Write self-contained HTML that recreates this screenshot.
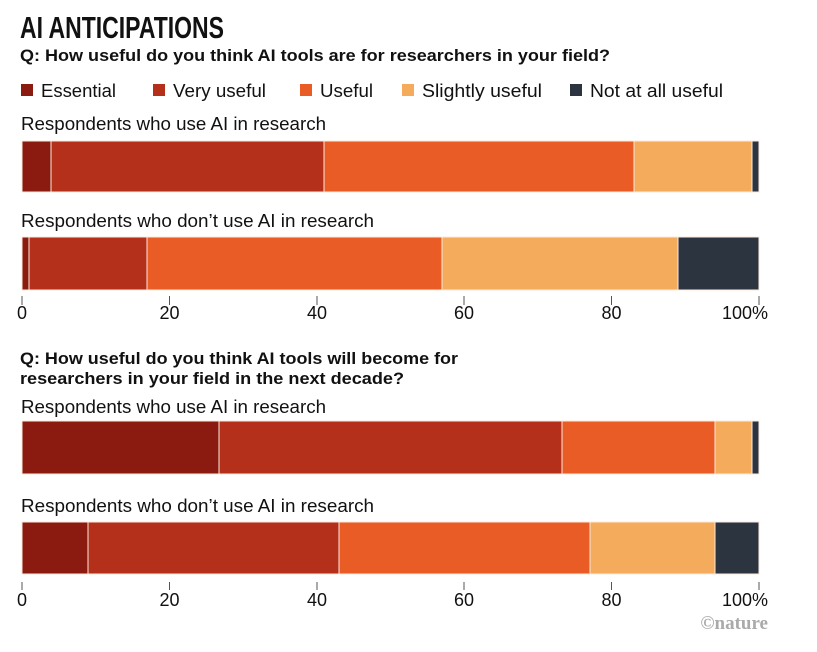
<!DOCTYPE html>
<html><head><meta charset="utf-8"><style>
body{margin:0;background:#fff;width:817px;height:647px;overflow:hidden}
svg text{font-family:"Liberation Sans",sans-serif;fill:#111}
</style></head><body>
<svg width="817" height="647" viewBox="0 0 817 647" xmlns="http://www.w3.org/2000/svg">
<text x="20" y="38" style="font-family:'Liberation Sans Narrow','Liberation Sans',sans-serif;font-weight:bold;font-size:31px" textLength="204" lengthAdjust="spacingAndGlyphs">AI ANTICIPATIONS</text>
<text x="20" y="61" font-size="16.5" font-weight="bold" textLength="590" lengthAdjust="spacingAndGlyphs">Q: How useful do you think AI tools are for researchers in your field?</text>
<g font-size="18">
<rect x="21" y="84" width="12" height="12" fill="#8b1a10"/><text x="41" y="97" textLength="75" lengthAdjust="spacingAndGlyphs">Essential</text>
<rect x="153" y="84" width="12" height="12" fill="#b5301a"/><text x="173" y="97" textLength="93" lengthAdjust="spacingAndGlyphs">Very useful</text>
<rect x="300" y="84" width="12" height="12" fill="#e95c26"/><text x="320" y="97" textLength="53" lengthAdjust="spacingAndGlyphs">Useful</text>
<rect x="402" y="84" width="12" height="12" fill="#f5ab5c"/><text x="422" y="97" textLength="120" lengthAdjust="spacingAndGlyphs">Slightly useful</text>
<rect x="570" y="84" width="12" height="12" fill="#2c353f"/><text x="590" y="97" textLength="133" lengthAdjust="spacingAndGlyphs">Not at all useful</text>
<text x="21" y="130" textLength="305" lengthAdjust="spacingAndGlyphs">Respondents who use AI in research</text>
<text x="21" y="227" textLength="353" lengthAdjust="spacingAndGlyphs">Respondents who don’t use AI in research</text>
<text x="21" y="413" textLength="305" lengthAdjust="spacingAndGlyphs">Respondents who use AI in research</text>
<text x="21" y="512" textLength="353" lengthAdjust="spacingAndGlyphs">Respondents who don’t use AI in research</text>
</g>
<text x="20" y="364" font-size="16.5" font-weight="bold" textLength="438" lengthAdjust="spacingAndGlyphs">Q: How useful do you think AI tools will become for</text>
<text x="20" y="384" font-size="16.5" font-weight="bold" textLength="384" lengthAdjust="spacingAndGlyphs">researchers in your field in the next decade?</text>
<g stroke="#fbe9dc" stroke-width="1">
<rect x="22" y="141" width="29" height="51" fill="#8b1a10"/><rect x="51" y="141" width="273" height="51" fill="#b5301a"/><rect x="324" y="141" width="310" height="51" fill="#e95c26"/><rect x="634" y="141" width="118" height="51" fill="#f5ab5c"/><rect x="752" y="141" width="7" height="51" fill="#2c353f"/>
<rect x="22" y="237" width="7" height="53" fill="#8b1a10"/><rect x="29" y="237" width="118" height="53" fill="#b5301a"/><rect x="147" y="237" width="295" height="53" fill="#e95c26"/><rect x="442" y="237" width="236" height="53" fill="#f5ab5c"/><rect x="678" y="237" width="81" height="53" fill="#2c353f"/>
<rect x="22" y="421" width="197" height="53" fill="#8b1a10"/><rect x="219" y="421" width="343" height="53" fill="#b5301a"/><rect x="562" y="421" width="153" height="53" fill="#e95c26"/><rect x="715" y="421" width="37" height="53" fill="#f5ab5c"/><rect x="752" y="421" width="7" height="53" fill="#2c353f"/>
<rect x="22" y="522" width="66" height="52" fill="#8b1a10"/><rect x="88" y="522" width="251" height="52" fill="#b5301a"/><rect x="339" y="522" width="251" height="52" fill="#e95c26"/><rect x="590" y="522" width="125" height="52" fill="#f5ab5c"/><rect x="715" y="522" width="44" height="52" fill="#2c353f"/>
</g>
<g stroke="#555" stroke-width="1">
<path d="M22 296v9M169.5 296v9M317 296v9M464 296v9M611.5 296v9M759 296v9"/>
<path d="M22 582v8M169.5 582v8M317 582v8M464 582v8M611.5 582v8M759 582v8"/>
</g>
<g font-size="18" text-anchor="middle">
<text x="22" y="319">0</text><text x="169.5" y="319">20</text><text x="317" y="319">40</text><text x="464" y="319">60</text><text x="611.5" y="319">80</text><text x="745" y="319">100%</text>
<text x="22" y="606">0</text><text x="169.5" y="606">20</text><text x="317" y="606">40</text><text x="464" y="606">60</text><text x="611.5" y="606">80</text><text x="745" y="606">100%</text>
</g>
<text x="768" y="629" text-anchor="end" font-size="19" font-weight="bold" style="font-family:'Liberation Serif',serif;fill:#aaa">©nature</text>
</svg>
</body></html>
